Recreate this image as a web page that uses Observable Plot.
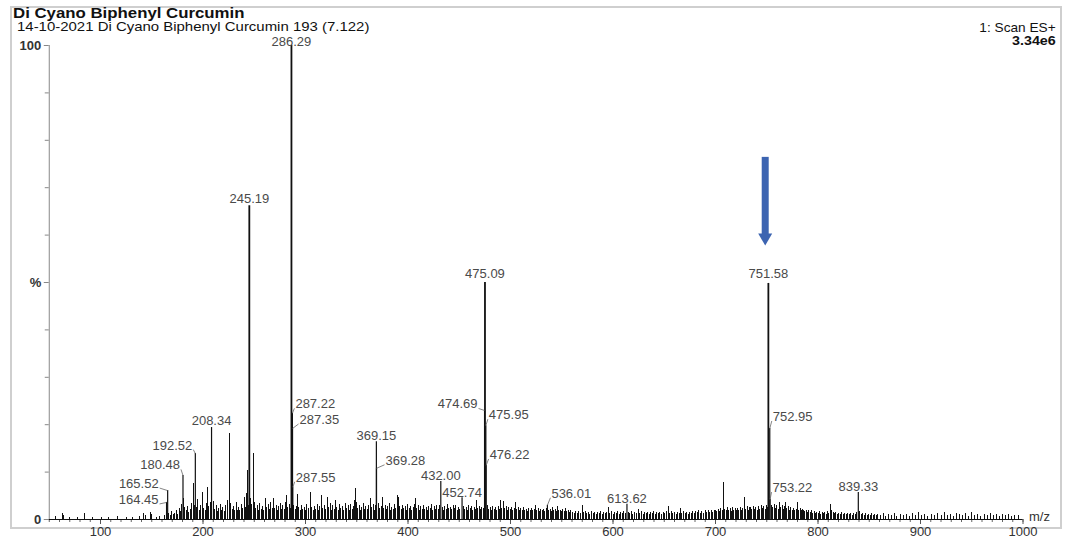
<!DOCTYPE html>
<html>
<head>
<meta charset="utf-8">
<script src="https://cdn.jsdelivr.net/npm/d3@7"></script>
<script src="https://cdn.jsdelivr.net/npm/@observablehq/plot@0.6"></script>
<style>
  html, body { margin: 0; padding: 0; background: #fff; }
  #wrap { position: relative; width: 1082px; height: 552px; overflow: hidden; font-family: "Liberation Sans", Arial, sans-serif; color: #111; }
  #frame { position: absolute; left: 10px; top: 6px; width: 1048px; height: 519px; border: 2px solid #cfcfcf; }
  .t { position: absolute; white-space: nowrap; line-height: 1; }
  #title { left: 13px; top: 5.5px; font-size: 14px; font-weight: bold; transform: scaleX(1.2); transform-origin: left top; }
  #subtitle { left: 17px; top: 19.5px; font-size: 13px; transform: scaleX(1.15); transform-origin: left top; }
  #scan { right: 26px; top: 21px; font-size: 13px; transform: scaleX(1.05); transform-origin: right top; }
  #scale { right: 26px; top: 34px; font-size: 13px; font-weight: bold; transform: scaleX(1.1); transform-origin: right top; }
  #chart { position: absolute; left: 0; top: 0; }
</style>
</head>
<body>
<div id="wrap">
  <div id="frame"></div>
  <div class="t" id="title">Di Cyano Biphenyl Curcumin</div>
  <div class="t" id="subtitle">14-10-2021 Di Cyano Biphenyl Curcumin 193 (7.122)</div>
  <div class="t" id="scan">1: Scan ES+</div>
  <div class="t" id="scale">3.34e6</div>
  <div id="chart"></div>
</div>
<script>
// ---- labelled peaks (m/z, relative intensity %) ----
const labelMz  = [164.45, 165.52, 180.48, 192.52, 208.34, 245.19, 286.29, 287.22, 287.35, 287.55,
                  369.15, 369.28, 432.00, 452.74, 474.69, 475.09, 475.95, 476.22, 536.01, 613.62,
                  751.58, 752.95, 753.22, 839.33];
const labelInt = [3.6, 6.1, 9.3, 13.9, 19.4, 66.2, 100, 22.4, 19.2, 6.8,
                  16.4, 10.8, 8.0, 4.6, 23.0, 50.0, 19.8, 11.4, 3.0, 3.2,
                  49.8, 19.2, 4.2, 5.7];
const mainPeaks = [245.19, 286.29, 475.09, 751.58];

// ---- unlabelled peaks / baseline noise [m/z, %] ----
const noise = [
 [56,0.6],[62.5,1.2],[63.5,0.8],[70,0.5],[78,0.4],[84.5,1.3],[92,0.4],[101,0.5],[108,0.4],[117,0.6],
 [125,0.5],[131,0.4],[138,0.7],[142,1.3],[144,0.9],[148.5,1.4],[150,1.0],[155,0.5],[158,0.6],[162,0.8],
 [166.8,1.2],[168.3,0.8],[169.6,1.6],[171,1.0],[172.4,1.3],[174.1,1.8],[175.3,1.1],[176.9,2.3],[178.2,1.7],[179.4,3.1],
 [181.0,4.4],[182.3,2.6],[183.6,1.9],[185.0,2.8],[186.2,1.5],[187.5,2.2],[188.9,3.4],[190.7,7.6],[191.6,3.0],[193.8,2.5],
 [195.1,4.2],[196.4,2.0],[197.8,3.0],[199.5,5.7],[200.7,2.4],[202.0,1.8],[203.2,3.3],[204.4,6.8],[205.6,2.7],[206.9,3.6],
 [210.3,3.9],[211.5,2.1],[212.8,2.9],[214.0,1.6],[215.3,2.4],[216.7,3.2],[218.0,1.9],[219.2,2.6],[220.5,1.7],[221.8,3.0],
 [223.9,4.0],[225.9,18.1],[227.1,3.4],[228.4,2.2],[229.6,2.8],[230.9,1.9],[232.2,3.5],[233.5,2.0],[234.8,2.6],[236.0,1.8],
 [237.3,3.1],[238.7,2.3],[240.0,4.6],[241.2,2.5],[242.2,5.5],[243.4,10.3],[244.3,3.0],[246.3,4.5],[247.5,3.2],[249.3,14.0],
 [250.4,3.6],[251.6,2.4],[252.9,2.9],[254.1,2.0],[255.4,3.3],[256.7,2.2],[258.0,2.7],[259.2,1.9],[261.0,4.4],[262.3,2.5],
 [263.6,3.2],[264.9,2.1],[266.2,3.6],[267.5,2.4],[268.8,4.4],[270.1,2.3],[271.4,3.0],[272.7,1.8],[274.0,2.8],[275.3,3.4],
 [276.6,2.1],[277.9,2.9],[279.2,2.2],[280.4,3.5],[281.5,5.0],[282.8,2.6],[284.1,3.1],[285.3,2.4],[288.5,3.0],[289.8,2.2],
 [291.0,2.7],[292.2,5.3],[293.5,2.5],[294.8,1.9],[296.1,3.0],[297.4,2.2],[298.7,2.6],[300.0,1.8],[301.3,3.2],[302.6,2.4],
 [304.9,5.7],[306.2,2.6],[307.5,1.9],[308.8,2.8],[310.1,2.2],[311.4,3.1],[312.7,2.0],[314.0,2.7],[315.6,5.0],[316.9,2.4],
 [318.2,3.0],[319.5,2.1],[321.5,4.6],[322.8,2.5],[324.1,3.4],[325.4,2.0],[326.7,2.9],[328.0,2.2],[329.3,4.0],[330.6,2.6],
 [331.9,1.9],[333.2,3.1],[334.5,2.3],[335.8,2.7],[337.1,1.8],[339.0,3.4],[340.3,2.4],[341.6,2.9],[342.9,2.0],[344.2,3.2],
 [345.5,2.2],[346.8,2.8],[348.1,4.0],[348.8,6.5],[349.9,3.6],[351.2,2.3],[352.5,2.9],[353.8,2.0],[355.1,2.6],[356.4,3.3],
 [357.7,2.1],[359.0,2.8],[360.3,2.2],[361.6,3.0],[363.4,4.4],[364.7,2.5],[366.0,3.1],[367.3,2.0],[368.3,2.9],[371.2,3.3],
 [372.5,2.4],[373.8,2.8],[375.1,4.6],[376.4,2.3],[377.7,3.0],[379.0,2.1],[380.3,2.7],[381.6,3.4],[382.9,2.0],[384.2,2.6],
 [385.5,2.2],[386.8,3.1],[388.1,2.4],[389.8,5.0],[390.6,4.6],[391.9,2.8],[393.2,2.1],[394.5,3.0],[395.8,2.3],[397.1,2.7],
 [398.4,2.0],[399.7,3.2],[401.0,2.4],[402.3,2.8],[403.6,1.9],[404.9,2.6],[406.2,3.1],[407.3,4.4],[408.6,2.4],[409.9,2.9],
 [411.2,2.0],[412.5,2.7],[413.8,2.2],[415.1,3.0],[416.4,2.1],[417.7,2.6],[419.0,1.9],[420.3,2.8],[421.6,2.3],[422.9,3.2],
 [424.2,2.0],[425.5,2.7],[426.8,2.2],[428.1,2.9],[429.4,2.1],[430.7,3.0],[433.3,2.5],[434.6,2.0],[435.9,2.8],[437.2,2.2],
 [438.5,3.1],[439.8,2.4],[441.5,2.5],[442.8,2.1],[444.1,2.9],[445.4,2.3],[446.7,3.0],[448.0,2.0],[449.3,2.6],[450.6,2.2],
 [454.0,2.8],[455.3,2.1],[456.6,2.6],[457.9,2.0],[459.2,2.9],[460.5,2.3],[461.8,2.7],[463.1,2.0],[464.4,2.5],[465.7,2.2],
 [466.8,4.0],[468.1,2.4],[469.4,2.8],[470.7,2.1],[472.0,2.6],[473.3,2.3],[477.5,2.9],[478.8,2.2],[480.1,2.6],[481.4,2.0],
 [482.7,2.8],[484.0,2.1],[485.3,2.5],[486.6,2.0],[487.9,2.7],[489.2,2.2],[490.2,4.0],[491.5,2.4],[493.2,3.8],[494.5,2.3],
 [495.8,2.7],[497.1,2.0],[498.4,2.6],[499.7,2.1],[501.0,2.5],[502.3,1.9],[503.6,2.4],[504.9,3.6],[506.2,2.2],[507.5,2.6],
 [508.8,1.9],[510.1,2.3],[511.4,1.8],[512.7,2.5],[514.0,2.0],[515.3,2.2],[516.6,1.7],[517.9,2.4],[519.2,1.9],[520.5,2.3],
 [521.8,1.8],[523.1,2.1],[524.4,3.0],[525.7,2.0],[527.0,2.3],[528.3,1.7],[529.6,2.2],[530.9,1.8],[532.2,2.1],[533.5,1.6],
 [534.8,2.3],[537.5,1.9],[538.8,2.2],[540.1,1.7],[541.0,2.5],[542.4,1.9],[543.7,2.1],[545.0,1.6],[545.9,2.7],[547.2,1.8],
 [548.5,2.0],[549.8,1.6],[551.1,2.1],[552.4,1.7],[553.7,2.3],[555.0,1.6],[556.3,1.9],[557.6,1.5],[558.9,1.8],
 [560.5,1.5],[562,1.2],[563.5,1.7],[565,1.3],[566.5,1.6],[568,1.2],[570.2,3.0],[571.5,1.4],[573,1.7],[574.5,1.2],
 [576,1.5],[577.5,1.1],[579,1.6],[580.5,1.2],[582,1.4],[583.5,1.1],[585,1.5],[586.5,1.2],[588,1.6],[589.5,1.0],
 [591,1.4],[592.5,1.2],[594,1.5],[595.6,2.5],[597,1.2],[598.5,1.6],[600,1.1],[601.5,1.4],[603,1.2],[604.5,1.7],
 [606,1.1],[607.5,1.5],[609,1.2],[610.5,1.6],[612,1.3],[615,1.5],[616.5,1.2],[618,1.6],[619.5,1.1],[621,1.4],
 [622.5,1.2],[624.9,2.2],[626.3,1.3],[627.8,1.6],[629.3,1.1],[630.8,1.4],[632.3,1.2],[633.8,1.5],[635.3,1.0],[636.8,1.4],
 [638.3,1.2],[639.8,1.6],[641.3,1.1],[642.8,1.4],[644.3,1.2],[645.8,1.5],[647.3,1.1],[648.8,1.4],[650.3,1.2],[651.8,1.6],
 [654.1,2.7],[655.5,1.3],[657,1.6],[658.5,1.2],[660,1.5],[661.5,1.1],[663,1.4],[664.5,1.2],[665.9,2.3],[667.3,1.3],
 [668.8,1.6],[670.3,1.2],[671.8,1.5],[673.3,1.1],[674.8,1.5],[676.3,1.3],[677.8,1.7],[679.3,1.2],[680.8,1.6],[682.4,1.5],
 [683.8,1.8],[685.3,1.3],[686.8,1.7],[688.3,1.2],[689.8,1.8],[691.3,1.4],[692.8,2.0],[694.3,1.5],[695.8,1.9],[697.3,1.4],
 [698.8,2.0],[700.0,2.0],[701.3,1.6],[702.6,2.2],[703.9,1.7],[705.2,2.4],[706.5,1.8],[707.8,7.8],[709.1,2.2],[710.4,1.8],
 [711.7,2.5],[713.0,1.9],[714.3,2.3],[715.6,1.7],[716.6,2.5],[717.9,2.0],[719.2,2.4],[720.5,1.8],[721.5,2.3],[722.8,1.9],
 [724.1,2.6],[725.4,2.0],[726.7,2.4],[728.3,4.6],[729.6,2.2],[730.9,2.7],[732.2,2.0],[733.5,2.5],[734.1,2.5],[735.4,2.1],
 [736.7,2.8],[738.0,2.2],[739.3,2.6],[740.6,2.0],[741.9,2.7],[743.2,2.2],[744.5,2.9],[745.8,2.3],[747.1,2.8],[748.4,2.2],
 [749.7,3.0],[750.6,2.5],
 [754.5,3.0],[755.8,2.5],[757.1,3.2],[758.4,2.4],[759.7,2.9],[761.0,2.2],[762.4,3.6],[763.7,2.5],[765.0,3.0],[766.3,2.1],
 [767.6,2.7],[768.3,3.6],[769.6,2.3],[770.9,2.8],[772.2,2.0],[773.5,2.5],[774.8,1.9],[776.1,2.4],[777.4,1.8],[778.7,2.2],
 [780.0,3.6],[781.3,2.0],[782.6,2.4],[783.9,1.8],[785.2,2.2],[785.9,2.0],[787.2,1.7],[788.5,2.0],[789.8,1.5],[791.1,1.9],
 [792.4,1.4],[793.7,1.8],[795.0,1.3],[796.3,1.6],[797.6,1.2],[798.9,1.5],[800.2,1.2],[801.5,1.6],[802.8,1.1],[804.1,1.4],
 [805.4,1.2],[806.7,1.5],[808.0,1.1],[809.3,1.6],[810.6,1.3],[812.2,3.2],[813.5,1.9],[814.8,1.4],[816.1,1.2],[817.4,1.5],
 [818.7,1.0],[820,1.3],[821.5,1.1],[823,1.4],[824.5,1.0],[826,1.3],[827.5,1.0],[829,1.2],[830.5,1.0],[832,1.3],
 [833.5,0.9],[835,1.2],[836.5,1.0],[838,1.4],[840.8,1.6],[842,1.1],[843.5,1.3],[845,0.9],[846.5,1.2],[848,0.9],
 [849.5,1.1],[851,0.8],[852.5,1.2],[854,0.9],[855.5,1.1],[857,0.8],[858.5,1.0],
 [861,0.9],[864,1.2],[866,0.7],[869,1.0],[872,0.8],[875,1.3],[877,0.7],[880,1.1],[883,0.8],[886,1.0],
 [889,0.7],[892,1.2],[895,0.8],[898,1.5],[901,0.9],[904,1.1],[907,0.7],[911,1.0],[914,0.8],[917,1.2],
 [920,0.8],[923,1.4],[926,0.9],[929,1.1],[932,0.7],[935,1.3],[938,1.0],[941,0.8],[944,1.2],[947,0.7],
 [950,1.4],[953,0.9],[956,1.0],[959,0.7],[962,1.1],[965,0.8],[968,1.3],[971,0.8],[974,1.0],[977,0.7],
 [980,1.1],[983,0.8],[986,1.0],[989,0.7],[992,0.9],[996,0.8]
];

// ---- axes ----
const xTicks = [100, 200, 300, 400, 500, 600, 700, 800, 900, 1000];
const xTickLabels = ["100", "200", "300", "400", "500", "600", "700", "800", "900", "1000"];
const yTicks = [0, 50, 100];
const yTickLabels = ["0", "%", "100"];

// ---- highlighted peak (blue arrow) ----
const arrowMz = 748.5;
const arrowTop = 76.4;
const arrowHead = 59.5;

// ---- layout (label placement, in pixels relative to peak top; + dy is up) ----
const labelLayout = {
  "164.45": {dx: -7, dy: -1.5, a: "end"},
  "165.52": {dx: -8, dy: 2.5, a: "end"},
  "180.48": {dx: -2, dy: 6, a: "end"},
  "192.52": {dx: -2, dy: 4, a: "end"},
  "208.34": {dx: 0, dy: 2.5, a: "middle"},
  "245.19": {dx: 0, dy: 2.5, a: "middle"},
  "286.29": {dx: 0, dy: -0.5, a: "middle"},
  "287.22": {dx: 2, dy: 5, a: "start"},
  "287.35": {dx: 6, dy: 4.5, a: "start"},
  "287.55": {dx: 2, dy: 5.5, a: "start"},
  "369.15": {dx: 0, dy: 2, a: "middle"},
  "369.28": {dx: 8, dy: 3.5, a: "start"},
  "432.00": {dx: 0, dy: 2, a: "middle"},
  "452.74": {dx: 0, dy: 1, a: "middle"},
  "474.69": {dx: -6, dy: 2, a: "end"},
  "475.09": {dx: 0, dy: 4.5, a: "middle"},
  "475.95": {dx: 2, dy: 6.5, a: "start"},
  "476.22": {dx: 2.5, dy: 6.5, a: "start"},
  "536.01": {dx: 3, dy: 7.5, a: "start"},
  "613.62": {dx: 0, dy: 1, a: "middle"},
  "751.58": {dx: 0, dy: 5.5, a: "middle"},
  "752.95": {dx: 2, dy: 7.5, a: "start"},
  "753.22": {dx: 1.5, dy: 7.5, a: "start"},
  "839.33": {dx: 0, dy: 1, a: "middle"}
};

const W = 1082, H = 552;
const mL = 48.75, mR = 59.5, mT = 45, mB = 33;
const xDomain = [50, 1000];
const pxPerMz = (W - mL - mR) / (xDomain[1] - xDomain[0]);
const pxPerPct = (H - mT - mB) / 100;

const labels = labelMz.map((mz, i) => {
  const text = mz.toFixed(2);
  const L = labelLayout[text];
  return {
    mz, h: labelInt[i], text, a: L.a,
    lx: mz + L.dx / pxPerMz,
    ly: labelInt[i] + L.dy / pxPerPct,
    leader: L.a !== "middle"
  };
});
const noiseData = noise.map(([mz, h]) => ({mz, h}));
const mainData = labels.filter(d => mainPeaks.includes(d.mz));
const minorLabeled = labels.filter(d => !mainPeaks.includes(d.mz));

const labelColor = "#4a4a4a";
const textOpts = {fill: labelColor, fontSize: 13, lineAnchor: "bottom", text: "text"};

const chart = Plot.plot({
  width: W, height: H,
  marginLeft: mL, marginRight: mR, marginTop: mT, marginBottom: mB,
  x: {domain: xDomain, axis: null},
  y: {domain: [0, 100], axis: null},
  style: {background: "transparent", fontFamily: "'Liberation Sans', Arial, sans-serif", color: "#333"},
  marks: [
    // minor ticks
    Plot.axisX({interval: 10, tickSize: 3, tickFormat: () => "", label: null, stroke: "#666"}),
    Plot.axisX({ticks: xTicks, tickSize: 5, tickPadding: 2, fontSize: 13, label: null, stroke: "#555", fill: "#333",
                tickFormat: d => xTickLabels[xTicks.indexOf(d)]}),
    Plot.axisY({ticks: [10,20,30,40,60,70,80,90], tickSize: 4, tickFormat: () => "", label: null, stroke: "#888"}),
    Plot.axisY({ticks: yTicks, tickSize: 5, tickPadding: 3, fontSize: 13, fontWeight: "bold", label: null, stroke: "#888", fill: "#333",
                tickFormat: d => yTickLabels[yTicks.indexOf(d)]}),
    Plot.ruleX([xDomain[0]], {stroke: "#888", strokeWidth: 1}),
    // noise & minor peaks
    Plot.ruleX(noiseData, {x: "mz", y1: 0, y2: "h", stroke: "#111", strokeWidth: 1, shapeRendering: "crispEdges"}),
    Plot.ruleX(minorLabeled, {x: "mz", y1: 0, y2: "h", stroke: "#111", strokeWidth: 1.2}),
    Plot.ruleX(mainData, {x: "mz", y1: 0, y2: "h", stroke: "#111", strokeWidth: 1.8}),
    Plot.ruleY([0], {stroke: "#111", strokeWidth: 1}),
    // leaders
    Plot.link(labels.filter(d => d.leader), {x1: "mz", y1: "h", x2: "lx", y2: "ly", stroke: "#666", strokeWidth: 0.8}),
    // labels
    Plot.text(labels.filter(d => d.a === "middle"), {x: "lx", y: "ly", textAnchor: "middle", ...textOpts}),
    Plot.text(labels.filter(d => d.a === "start"), {x: "lx", y: "ly", textAnchor: "start", dx: 1, ...textOpts}),
    Plot.text(labels.filter(d => d.a === "end"), {x: "lx", y: "ly", textAnchor: "end", dx: -1, ...textOpts}),
    // axis title
    Plot.text(["m/z"], {frameAnchor: "bottom-right", dx: 6, dy: 1, textAnchor: "start", fontSize: 13, fill: "#333"}),
    // blue arrow
    Plot.ruleX([{x: arrowMz}], {x: "x", y1: arrowHead + 0.4, y2: arrowTop, stroke: "#3c64b1", strokeWidth: 7}),
    Plot.dot([{x: arrowMz}], {x: "x", y: arrowHead, symbol: "triangle", rotate: 180, r: 5.2, fill: "#3c64b1", stroke: "none"})
  ]
});
document.getElementById("chart").appendChild(chart);
</script>
</body>
</html>
